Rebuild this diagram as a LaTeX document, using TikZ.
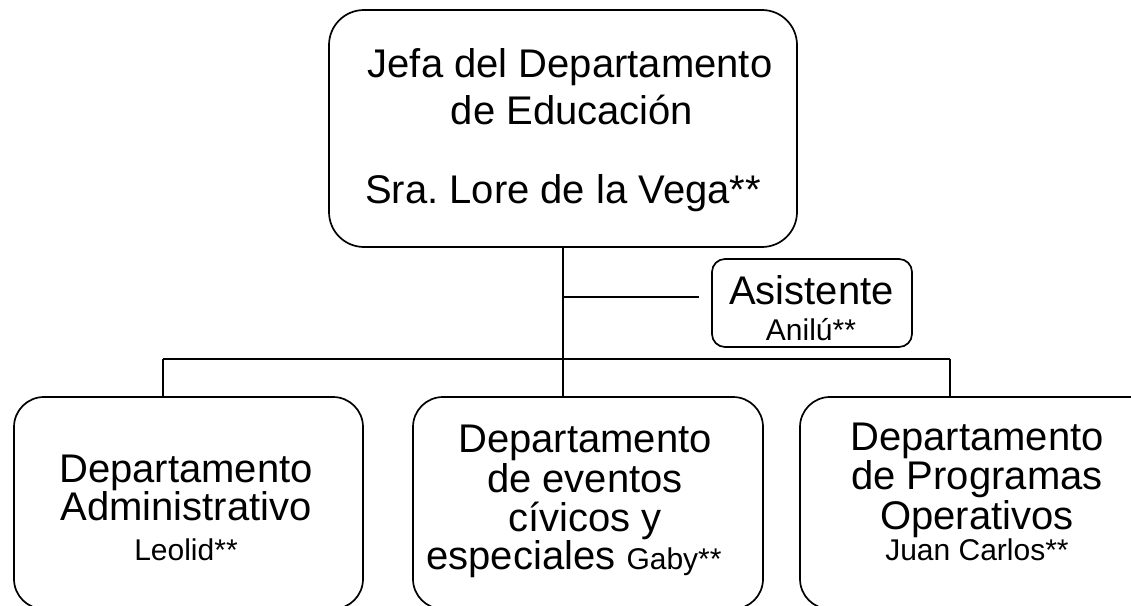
\documentclass[tikz,border=0pt]{standalone}
\usepackage{fontspec}
\setmainfont{Liberation Sans}
\begin{document}
\begin{tikzpicture}[x=1pt,y=-1pt,
  box/.style={draw, line width=1.7pt, rounded corners=30pt, inner sep=0pt},
  big/.style={font=\fontsize{40}{44}\selectfont, anchor=base, inner sep=0pt},
  small/.style={font=\fontsize{30}{33}\selectfont, anchor=base, inner sep=0pt},
  conn/.style={line width=1.7pt}]
\frenchspacing
\useasboundingbox (0,0) rectangle (1131,605);
\clip (0,0) rectangle (1131,605);
% boxes
\node[box, rounded corners=35pt, minimum width=468pt, minimum height=237pt] (jefa) at (563,128.5) {};
\node[box, rounded corners=13pt, minimum width=200pt, minimum height=88pt] (asis) at (812,303) {};
\node[box, minimum width=349pt, minimum height=212pt] (adm) at (188.5,503) {};
\node[box, minimum width=350pt, minimum height=212pt] (eve) at (588,503) {};
\node[box, minimum width=364pt, minimum height=212pt] (ope) at (982,503) {};
% connectors
\coordinate (ta) at (563,297);
\coordinate (barL) at (163,359);
\coordinate (barR) at (950,359);
\draw[conn] (jefa.south) -- (jefa.south |- eve.north);
\draw[conn] (ta) -- ([xshift=-12pt]asis.west |- ta);
\draw[conn] (barL) -- (barR);
\draw[conn] (barL) -- (barL |- adm.north);
\draw[conn] (barR) -- (barR |- ope.north);
% texts
\node[big] (j1) at (570,77) {Jefa del Departamento};
\node[big] (j2) at (572,124) {de Educación};
\node[big] (j3) at (563,203) {Sra. Lore de la Vega**};
\node[big] (a1) at (811.5,304) {Asistente};
\node[small] (a2) at (811,340) {Anilú**};
\node[big] (l1) at (186,482) {Departamento};
\node[big] (l2) at (186,520) {Administrativo};
\node[small] (l3) at (186,560) {Leolid**};
\node[big] (m1) at (585,452) {Departamento};
\node[big] (m2) at (585,492) {de eventos};
\node[big] (m3) at (585,531) {cívicos y};
\node[big] (m4) at (574,569) {especiales {\fontsize{30}{33}\selectfont Gaby**}};
\node[big] (r1) at (977,450) {Departamento};
\node[big] (r2) at (977,489) {de Programas};
\node[big] (r3) at (977,529) {Operativos};
\node[small] (r4) at (977,560) {Juan Carlos**};
\end{tikzpicture}
\end{document}
